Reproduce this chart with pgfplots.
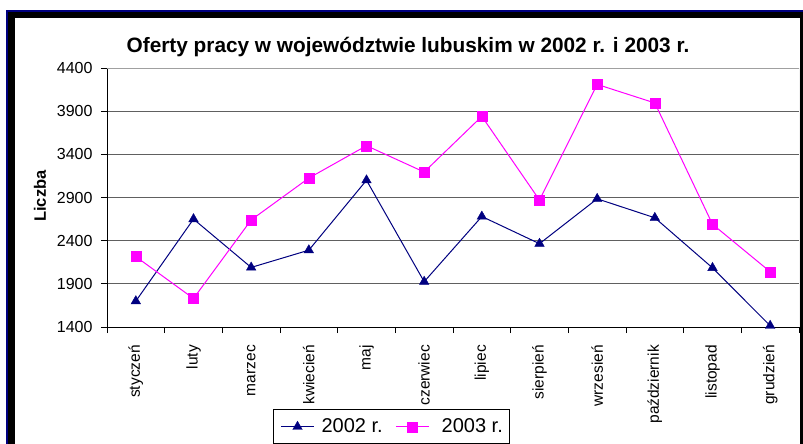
\documentclass[border=0pt]{standalone}
\usepackage{fontspec}
\setmainfont{Liberation Sans}
\usepackage{pgfplots}
\pgfplotsset{compat=1.18}
\definecolor{navyc}{RGB}{0,0,128}
\definecolor{magc}{RGB}{255,0,255}
\definecolor{gridc}{RGB}{96,96,96}
\definecolor{topc}{RGB}{160,160,160}
\begin{document}
\begin{tikzpicture}[x=1pt,y=1pt]
\useasboundingbox (0,0) rectangle (803,-444);
\clip (0,0) rectangle (803,-444);
\fill[white] (0,0) rectangle (803,-444);
\fill[navyc] (6,-10) rectangle (810,-450);
\fill[black] (8,-12.5) rectangle (810,-450);
\fill[white] (15,-18.5) rectangle (800,-450);
\node[anchor=base, font=\bfseries\fontsize{20.8}{24}\selectfont] at (408,-52.5) {Oferty pracy w województwie lubuskim w 2002 r. i 2003 r.};
\node[rotate=90, font=\bfseries\fontsize{16.5}{19}\selectfont] at (40,-196) {Liczba};
\begin{axis}[
  at={(107pt,-327pt)}, anchor=south west,
  scale only axis, width=692pt, height=259pt,
  xmin=-0.5, xmax=11.5, ymin=1400, ymax=4400,
  axis x line*=bottom, axis y line*=left,
  axis line style={black, line width=1pt},
  xtick={-0.5,0.5,...,11.5},
  xticklabels={styczeń,luty,marzec,kwiecień,maj,czerwiec,lipiec,sierpień,wrzesień,październik,listopad,grudzień},
  x tick label as interval,
  ytick={1400,1900,2400,2900,3400,3900},
  extra y ticks={4400},
  extra y tick style={grid style={color=topc, line width=1pt}},
  ymajorgrids,
  grid style={color=gridc, line width=1pt},
  tick align=outside, major tick length=6pt,
  tick style={black, line width=1pt},
  /pgf/number format/assume math mode=true,
  /pgf/number format/1000 sep={},
  ticklabel style={font=\fontsize{16}{19}\selectfont},
  yticklabel style={inner sep=0pt, xshift=-8.3pt},
  xticklabel style={rotate=90, anchor=east, inner sep=0pt, xshift=-12pt, font=\fontsize{15.5}{18}\selectfont},
  legend columns=2,
  legend style={at={(0.2399,-0.3166)}, anchor=north west, draw=black, line width=1pt, fill=white,
    font=\fontsize{20}{23}\selectfont, inner xsep=7pt, inner ysep=9.5pt,
    nodes={inner sep=0pt},
    /tikz/every odd column/.append style={column sep=7pt},
    /tikz/every even column/.append style={column sep=13pt}},
  legend image code/.code={\draw[mark repeat=2,mark phase=2,#1] plot coordinates {(0pt,0pt) (16.5pt,0pt) (33pt,0pt)};},
]
\draw[topc, line width=1pt] (rel axis cs:1,0) -- (rel axis cs:1,1);
\addplot[navyc, line width=1pt, mark=triangle*, mark size=5.5pt, mark options={solid, fill=navyc, line width=0.4pt}]
  coordinates {(0,1700) (1,2650) (2,2090) (3,2290) (4,3100) (5,1925) (6,2680) (7,2365) (8,2885) (9,2665) (10,2085) (11,1415)};
\addlegendentry{2002 r.}
\addplot[magc, line width=1pt, mark=square*, mark size=5pt, mark options={solid, fill=magc, line width=0.4pt}]
  coordinates {(0,2215) (1,1730) (2,2640) (3,3125) (4,3500) (5,3195) (6,3840) (7,2870) (8,4210) (9,3995) (10,2590) (11,2040)};
\addlegendentry{\hspace{5pt}2003 r.\hspace{3pt}}
\end{axis}
\end{tikzpicture}
\end{document}
